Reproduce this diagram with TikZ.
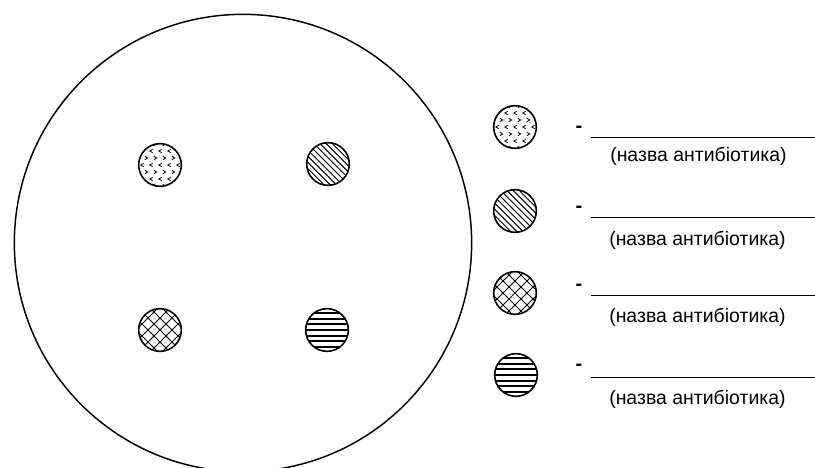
\documentclass[tikz,border=0pt]{standalone}
\usepackage{fontspec}
\setmainfont{Liberation Sans}
\usepackage{tikz}
\begin{document}
\begin{tikzpicture}[
        x=0.75pt, y=-0.75pt,
        disk/.style={
            circle,
            draw,
            line width=1.2pt,
            minimum size=32pt,
            inner sep=0pt
        },
        dotdisk/.style={
            disk,
            path picture={
                \begin{scope}[shift={(path picture bounding box.center)}, line width=0.6pt]
                    \foreach \i in {-2,...,2} \foreach \j in {-1,...,1}
                        \draw (\i*9+1.6,\j*14-1.6) -- (\i*9-1.2,\j*14) -- (\i*9+1.6,\j*14+1.6);
                    \foreach \i in {-2,...,1} \foreach \j in {-2,...,1}
                        \draw (\i*9+4.5-1.6,\j*14+7-1.6) -- (\i*9+4.5+1.2,\j*14+7) -- (\i*9+4.5-1.6,\j*14+7+1.6);
                \end{scope}
            }
        },
        hatchdisk/.style={
            disk,
            path picture={
                \begin{scope}[shift={(path picture bounding box.center)}, line width=0.7pt]
                    \foreach \k in {-10,...,10}
                        \draw (\k*6.2-30,-30) -- (\k*6.2+30,30);
                \end{scope}
            }
        },
        crossdisk/.style={
            disk,
            path picture={
                \begin{scope}[shift={(path picture bounding box.center)}, line width=0.7pt]
                    \foreach \k in {-5,...,5} {
                        \draw (\k*12-30,-30) -- (\k*12+30,30);
                        \draw (\k*12-30,30) -- (\k*12+30,-30);
                    }
                \end{scope}
            }
        },
        stripedisk/.style={
            disk,
            path picture={
                \begin{scope}[shift={(path picture bounding box.center)}, line width=1.4pt]
                    \foreach \k in {-3,...,3}
                        \draw (-30,\k*5.6) -- (30,\k*5.6);
                \end{scope}
            }
        },
        dashmark/.style={
            anchor=base,
            inner sep=0pt,
            font=\fontsize{15}{17}\selectfont\bfseries
        },
        uline/.style={
            line width=0.75pt
        },
        caption/.style={
            anchor=west,
            inner sep=0pt,
            font=\fontsize{14.6}{17}\selectfont
        }
    ]
        \useasboundingbox (0,0) rectangle (815,468);
        \clip (0,0) rectangle (815,468);

        % Petri dish with four disks
        \node[circle, draw, line width=1.1pt, minimum size=343pt, inner sep=0pt] (dish) at (243,243) {};
        \node[dotdisk] (d1) at (160,165) {};
        \node[hatchdisk] (d2) at (328,164) {};
        \node[crossdisk] (d3) at (160,330) {};
        \node[stripedisk] (d4) at (327,330) {};

        % Legend
        \node[dotdisk] (k1) at (515,127) {};
        \node[hatchdisk] (k2) at (515,211) {};
        \node[crossdisk] (k3) at (515,293) {};
        \node[stripedisk] (k4) at (516,375) {};

        \node[dashmark] (m1) at (579,132) {-};
        \node[dashmark] (m2) at (579,212) {-};
        \node[dashmark] (m3) at (579,290) {-};
        \node[dashmark] (m4) at (579,370) {-};

        \draw[uline] (591,137.5) -- (815,137.5);
        \draw[uline] (591,217) -- (815,217);
        \draw[uline] (591,295.5) -- (815,295.5);
        \draw[uline] (591,377) -- (815,377);

        \node[caption] (c1) at (610,156) {(назва антибіотика)};
        \node[caption] (c2) at (609,240) {(назва антибіотика)};
        \node[caption] (c3) at (609,317) {(назва антибіотика)};
        \node[caption] (c4) at (609,399) {(назва антибіотика)};
    \end{tikzpicture}
\end{document}
